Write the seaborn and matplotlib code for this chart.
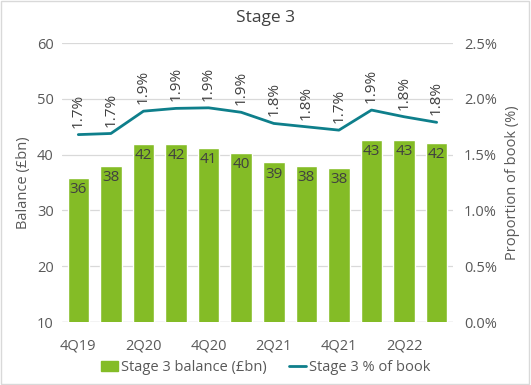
import numpy as np
import pandas as pd
import matplotlib
matplotlib.use("Agg")
import matplotlib.pyplot as plt
import seaborn as sns
from matplotlib.lines import Line2D
from matplotlib.patches import Patch, Rectangle

quarters = ["4Q19", "1Q20", "2Q20", "3Q20", "4Q20", "1Q21", "2Q21", "3Q21",
            "4Q21", "1Q22", "2Q22", "3Q22"]
balance = [35.8, 38.0, 41.9, 41.9, 41.2, 40.3, 38.6, 38.0, 37.7, 42.6, 42.7, 42.1]
balance_labels = ["36", "38", "42", "42", "41", "40", "39", "38", "38", "43", "43", "42"]
pct_book = [1.68, 1.69, 1.89, 1.915, 1.92, 1.88, 1.78, 1.75, 1.72, 1.90, 1.84, 1.79]
pct_labels = ["1.7%", "1.7%", "1.9%", "1.9%", "1.9%", "1.9%", "1.8%", "1.8%",
              "1.7%", "1.9%", "1.8%", "1.8%"]
left_ticks = [10, 20, 30, 40, 50, 60]
right_ticks = [0.0, 0.5, 1.0, 1.5, 2.0, 2.5]
right_tick_labels = ["0.0%", "0.5%", "1.0%", "1.5%", "2.0%", "2.5%"]

sns.set_style("white")
plt.rcParams["font.family"] = ["Open Sans", "DejaVu Sans"]

GREEN = "#84BC26"
TEAL = "#0E7F8B"
TXT = "#595959"
LBL = "#404040"
FS = 10.5

df = pd.DataFrame({"quarter": quarters, "balance": balance})

fig = plt.figure(figsize=(5.31, 3.85), dpi=100)
ax = fig.add_axes([0.1168, 0.1636, 0.853 - 0.1168, 0.888 - 0.1636])

sns.barplot(data=df, x="quarter", y="balance", color=GREEN, saturation=1,
            width=0.66, ax=ax, zorder=2)
ax.set_ylim(10, 60)
ax.set_yticks(left_ticks)
ax.set_xlim(-0.5, len(quarters) - 0.5)
ax.grid(axis="y", color="#D9D9D9", linewidth=0.9, zorder=0)
ax.set_axisbelow(True)
for s in ax.spines.values():
    s.set_visible(False)
ax.axhline(10, color="#D9D9D9", linewidth=1.0, zorder=1)

ax.set_xticks(range(0, len(quarters), 2))
ax.set_xticklabels(quarters[::2])
ax.tick_params(axis="both", length=0, labelsize=FS, labelcolor=TXT)
ax.tick_params(axis="x", pad=12)
ax.tick_params(axis="y", pad=6)
ax.set_xlabel("")
ax.set_ylabel("Balance (£bn)", fontsize=FS, color=TXT, labelpad=4)

for i, (v, lab) in enumerate(zip(balance, balance_labels)):
    ax.annotate(lab, (i, v), xytext=(0, -3), textcoords="offset points",
                ha="center", va="top", fontsize=FS + 0.5, color=LBL, zorder=5)

ax2 = ax.twinx()
sns.lineplot(x=np.arange(len(quarters)), y=pct_book, ax=ax2, color=TEAL,
             linewidth=2.0, zorder=4)
ax2.set_ylim(0, 2.5)
ax2.set_yticks(right_ticks)
ax2.set_yticklabels(right_tick_labels)
ax2.tick_params(axis="y", length=0, labelsize=FS, labelcolor=TXT, pad=8)
for s in ax2.spines.values():
    s.set_visible(False)
ax2.set_ylabel("Proportion of book (%)", fontsize=FS, color=TXT, labelpad=6)
ax2.grid(False)

for i, (v, lab) in enumerate(zip(pct_book, pct_labels)):
    ax2.annotate(lab, (i, v), xytext=(0, 5), textcoords="offset points",
                 ha="center", va="bottom", rotation=90, fontsize=FS + 0.5,
                 color=LBL, zorder=5)

fig.text(0.5, 0.953, "Stage 3", ha="center", va="center", fontsize=12.5, color=LBL)

handles = [Patch(facecolor=GREEN, edgecolor=GREEN),
           Line2D([0], [0], color=TEAL, linewidth=2.0)]
fig.legend(handles, ["Stage 3 balance (£bn)", "Stage 3 % of book"],
           loc="center", bbox_to_anchor=(0.5, 0.045), ncol=2, frameon=False,
           fontsize=FS, labelcolor=TXT, handlelength=1.2, handletextpad=0.2,
           columnspacing=1.5)

fig.patches.append(Rectangle((0.002, 0.003), 0.994, 0.994, transform=fig.transFigure,
                             fill=False, edgecolor="#D9D9D9", linewidth=1.0))

fig.savefig("out.png", dpi=100)
